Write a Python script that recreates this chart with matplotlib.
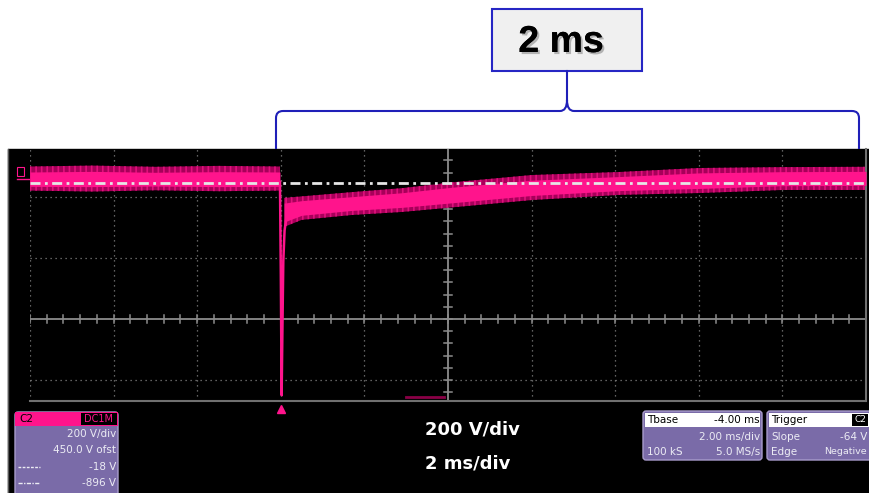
import numpy as np
import matplotlib
matplotlib.use("Agg")
import matplotlib.pyplot as plt
from matplotlib.patches import Rectangle, FancyBboxPatch, PathPatch
from matplotlib.path import Path
import matplotlib.patheffects as pe

# scope settings (from the readout)
volts_per_div = 200
offset_v = 450
ms_per_div = 2
t_left, t_right = -6, 14          # trigger sits 3 divisions from the left

# waveform envelopes (t in ms, V)
t_pre = [-6.0, -4.5, -3.0, -1.5, -0.02]
pre_hi = [950, 953, 949, 952, 950]
pre_lo = [871, 868, 872, 869, 871]
pre_core_hi = [932, 934, 931, 933, 932]
pre_core_lo = [885, 884, 886, 884, 885]

t_post = [0.08, 0.5, 1.7, 2.9, 4.1, 6.0, 8.1, 10.0, 12.0, 14.0]
post_hi = [847, 852, 866, 879, 898, 922, 932, 945, 948, 949]
post_lo = [752, 775, 791, 801, 816, 840, 857, 863, 873, 873]
post_core_hi = [830, 838, 851, 864, 882, 905, 917, 929, 933, 934]
post_core_lo = [768, 790, 806, 816, 831, 855, 871, 878, 887, 888]

# the fast drop at the trigger
drop_t = [-0.02, 0.0, 0.02, 0.04, 0.06, 0.09, 0.14]
drop_v = [900, 600, 200, 430, 640, 740, 790]

cursor_level = 896               # dash-dot cursor
marker_t = [3.0, 3.9]            # short dark line near the bottom
marker_v = [194, 194]

pink = "#ff148c"
dark_pink = "#a8005a"

plt.rcParams["hatch.linewidth"] = 1.2

fig = plt.figure(figsize=(8.7, 4.93), dpi=100)
fig.patch.set_facecolor("white")

# background / annotation layer in pixel coordinates
bg = fig.add_axes([0, 0, 1, 1])
bg.set_xlim(0, 870)
bg.set_ylim(493, 0)
bg.axis("off")
bg.add_patch(Rectangle((8, 149), 862, 344, color="black", zorder=0))
bg.plot([8.5, 8.5], [149, 493], color="#555555", lw=1)

# callout box with "2 ms"
bg.add_patch(Rectangle((492, 9), 150, 62, facecolor="#f0f0f0", edgecolor="#2626c4", lw=1.5))
bg.text(561, 42, "2 ms", ha="center", va="center", fontsize=27, fontweight="bold",
        family="Liberation Sans", color="black",
        path_effects=[pe.withSimplePatchShadow(offset=(1.5, -1.5), alpha=0.25), pe.Normal()])

# brace under the box
brace_col = "#1f1fb8"
left_half = Path([(276, 149), (276, 118), (276, 111), (283, 111), (560, 111), (567, 111), (567, 100)],
                 [Path.MOVETO, Path.LINETO, Path.CURVE3, Path.CURVE3, Path.LINETO, Path.CURVE3, Path.CURVE3])
right_half = Path([(859, 149), (859, 118), (859, 111), (852, 111), (574, 111), (567, 111), (567, 100)],
                  [Path.MOVETO, Path.LINETO, Path.CURVE3, Path.CURVE3, Path.LINETO, Path.CURVE3, Path.CURVE3])
for p in (left_half, right_half):
    bg.add_patch(PathPatch(p, facecolor="none", edgecolor=brace_col, lw=1.5))
bg.plot([567, 567], [71, 100], color=brace_col, lw=1.5)

# channel marker on the left edge
bg.add_patch(Rectangle((17, 167), 7, 9, facecolor="none", edgecolor=pink, lw=0.8))
bg.plot([17, 30], [178.5, 178.5], color=pink, lw=1)
bg.add_patch(Rectangle((32, 308), 30, 9, facecolor=pink, edgecolor="none"))
bg.add_patch(Rectangle((830, 324), 35, 8, facecolor=pink, edgecolor="none"))

# scope graticule axes
y_bot = offset_v - (401 - 319) / 61 * volts_per_div
y_top = offset_v + (319 - 149) / 61 * volts_per_div
ax = fig.add_axes([30 / 870, (493 - 401) / 493, 836 / 870, 252 / 493])
ax.set_facecolor("black")
ax.set_xlim(t_left, t_right)
ax.set_ylim(y_bot, y_top)
ax.set_xticks([])
ax.set_yticks([])
for side in ("top", "left"):
    ax.spines[side].set_visible(False)
for side in ("bottom", "right"):
    ax.spines[side].set_color("#707070")
    ax.spines[side].set_linewidth(1.5)

t_center = (t_left + t_right) / 2
grid_col = "#808080"
for t in np.arange(t_left, t_right, ms_per_div):
    if t != t_center:
        ax.axvline(t, color=grid_col, lw=0.9, ls=(0, (1, 3)), zorder=1)
for k in (-1, 1, 2):
    ax.axhline(offset_v + k * volts_per_div, color=grid_col, lw=0.9, ls=(0, (1, 3)), zorder=1)

# solid centre lines with minor ticks
ax.axvline(t_center, color="#8c8c8c", lw=1.3, zorder=1)
ax.axhline(offset_v, color="#8c8c8c", lw=1.3, zorder=1)
minor_t = np.arange(t_left, t_right + 0.01, ms_per_div / 5)
minor_v = np.arange(offset_v - 2 * volts_per_div, y_top, volts_per_div / 5)
for t in minor_t:
    ax.plot([t, t], [offset_v - 12, offset_v + 12], color="#8c8c8c", lw=1.1, zorder=1)
for v in minor_v:
    ax.plot([t_center - 0.09, t_center + 0.09], [v, v], color="#8c8c8c", lw=1.1, zorder=1)

# waveform: darker noisy skirt with vertical striation, bright core
ax.fill_between(t_pre, pre_lo, pre_hi, facecolor=dark_pink, edgecolor="#e0107c",
                hatch="|||", lw=0, zorder=2)
ax.fill_between(t_pre, pre_core_lo, pre_core_hi, color=pink, lw=0, zorder=3)
ax.fill_between(t_post, post_lo, post_hi, facecolor=dark_pink, edgecolor="#e0107c",
                hatch="|||", lw=0, zorder=2)
ax.fill_between(t_post, post_core_lo, post_core_hi, color=pink, lw=0, zorder=3)
ax.plot(drop_t, drop_v, color=pink, lw=1.8, zorder=3)

ax.axhline(cursor_level, color="#e6e6e6", lw=2, ls=(0, (3.6, 1.6, 1.0, 1.6)), zorder=4)
ax.plot(marker_t, marker_v, color="#8a0046", lw=2, zorder=3)
ax.plot([0], [-0.03], transform=ax.get_xaxis_transform(), marker="^", ms=6,
        color=pink, clip_on=False, zorder=5)

# readout panels
lav = "#7a6ba8"
txt = "#ececf4"
bg.add_patch(FancyBboxPatch((15, 412), 103, 90, boxstyle="round,pad=0,rounding_size=3",
                            facecolor=lav, edgecolor="#a99ccc", lw=1))
bg.add_patch(Rectangle((15, 412), 103, 14, facecolor=pink, edgecolor="none"))
bg.text(19, 419, "C2", fontsize=7.5, color="black", va="center")
bg.add_patch(Rectangle((81, 413), 36, 12, facecolor="black", edgecolor="none"))
bg.text(99, 419, "DC1M", fontsize=7, color=pink, va="center", ha="center")
bg.text(116, 434, "200 V/div", fontsize=7.5, color=txt, ha="right", va="center")
bg.text(116, 450, "450.0 V ofst", fontsize=7.5, color=txt, ha="right", va="center")
bg.text(116, 467, "-18 V", fontsize=7.5, color=txt, ha="right", va="center")
bg.text(116, 483, "-896 V", fontsize=7.5, color=txt, ha="right", va="center")
bg.plot([18, 40], [467, 467], color=txt, lw=1, ls=(0, (2, 1)))
bg.plot([18, 40], [483, 483], color=txt, lw=1, ls=(0, (3, 1, 1, 1)))

bg.add_patch(FancyBboxPatch((643, 411), 119, 49, boxstyle="round,pad=0,rounding_size=3",
                            facecolor=lav, edgecolor="#a99ccc", lw=1))
bg.add_patch(Rectangle((645, 413), 115, 14, facecolor="white", edgecolor="none"))
bg.text(647, 420, "Tbase", fontsize=7.5, color="black", va="center")
bg.text(760, 420, "-4.00 ms", fontsize=7.5, color="black", va="center", ha="right")
bg.text(760, 437, "2.00 ms/div", fontsize=7.5, color=txt, va="center", ha="right")
bg.text(647, 452, "100 kS", fontsize=7.5, color=txt, va="center")
bg.text(760, 452, "5.0 MS/s", fontsize=7.5, color=txt, va="center", ha="right")

bg.add_patch(FancyBboxPatch((767, 411), 110, 49, boxstyle="round,pad=0,rounding_size=3",
                            facecolor=lav, edgecolor="#a99ccc", lw=1))
bg.add_patch(Rectangle((769, 413), 110, 14, facecolor="white", edgecolor="none"))
bg.text(771, 420, "Trigger", fontsize=7.5, color="black", va="center")
bg.add_patch(Rectangle((852, 414), 16, 12, facecolor="black", edgecolor="none"))
bg.text(860, 420, "C2", fontsize=6.5, color="white", va="center", ha="center")
bg.text(771, 437, "Slope", fontsize=7.5, color=txt, va="center")
bg.text(867, 437, "-64 V", fontsize=7.5, color=txt, va="center", ha="right")
bg.text(771, 452, "Edge", fontsize=7.5, color=txt, va="center")
bg.text(867, 452, "Negative", fontsize=6.8, color=txt, va="center", ha="right")

# scale summary in the middle of the bottom strip
bg.text(425, 430, "200 V/div", fontsize=13, fontweight="bold", color="white", va="center")
bg.text(425, 463, "2 ms/div", fontsize=13, fontweight="bold", color="white", va="center")

fig.savefig("out.png", dpi=100, facecolor=fig.get_facecolor())
